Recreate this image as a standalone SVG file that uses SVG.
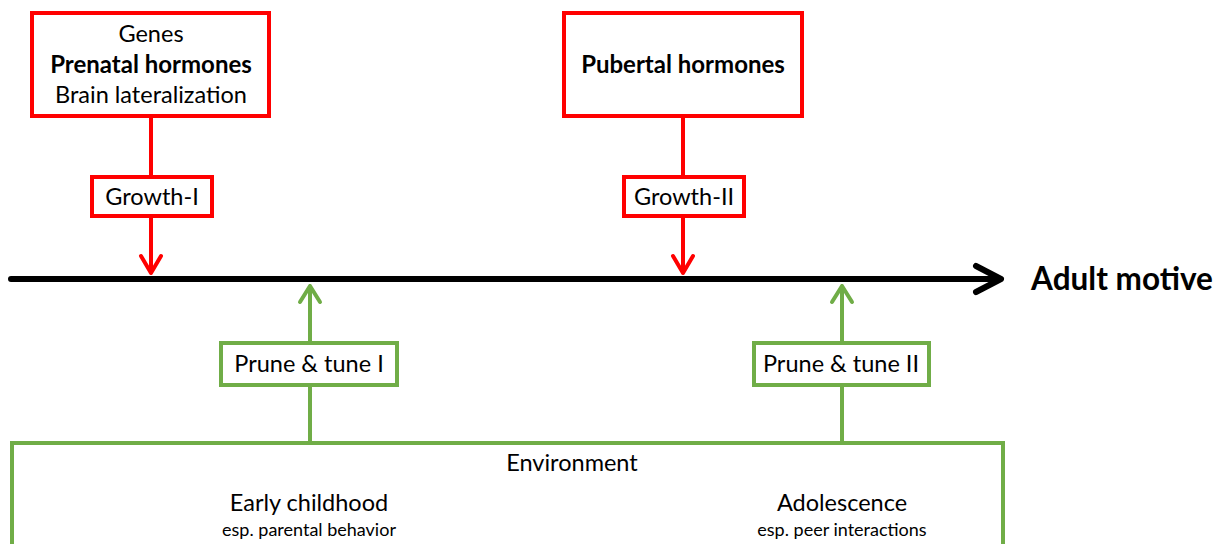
<svg xmlns="http://www.w3.org/2000/svg" width="1225" height="544" viewBox="0 0 1225 544">
<defs>
<style>
.r{fill:#fff;stroke:#FF0000;stroke-width:4}
.g{fill:#fff;stroke:#70AD47;stroke-width:4}
.rl{stroke:#FF0000;stroke-width:4;fill:none;stroke-linecap:round;stroke-linejoin:round}
.gl{stroke:#70AD47;stroke-width:4;fill:none;stroke-linecap:round;stroke-linejoin:round}
text{font-family:Lato,"Open Sans",sans-serif;fill:#000;text-anchor:middle}
.t{font-size:23.5px}
.b{font-size:24px;font-weight:bold}
.s{font-size:18px}
</style>
</defs>
<g id="connectors">
<path class="rl" d="M151,116 V176"/>
<path class="rl" d="M151,216 V273 M141,256 L151,273 L161,256"/>
<path class="rl" d="M683,116 V176"/>
<path class="rl" d="M683,216 V273 M673,256 L683,273 L693,256"/>
<path d="M11,279 H1000 M976,266 L1001,279 L976,292" fill="none" stroke="#000" stroke-width="6" stroke-linecap="round" stroke-linejoin="round"/>
<path class="gl" d="M310,342 V286 M300,302 L310,286 L320,302"/>
<path class="gl" d="M310,386 V443"/>
<path class="gl" d="M842,342 V286 M832,302 L842,286 L852,302"/>
<path class="gl" d="M842,386 V443"/>
</g>
<g id="node-prenatal">
<rect class="r" x="32" y="13" width="237" height="103"/>
<text class="t" x="151" y="42">Genes</text>
<text class="b" x="151" y="73">Prenatal hormones</text>
<text class="t" x="151" y="103">Brain lateralization</text>
</g>
<g id="node-growth1">
<rect class="r" x="92" y="177" width="120" height="39"/>
<text class="t" x="152" y="205">Growth-I</text>
</g>
<g id="node-pubertal">
<rect class="r" x="564" y="13" width="238" height="103"/>
<text class="b" x="683" y="73">Pubertal hormones</text>
</g>
<g id="node-growth2">
<rect class="r" x="624" y="177" width="120" height="39"/>
<text class="t" x="684" y="205">Growth-II</text>
</g>
<g id="node-adult">
<text x="1122" y="290" style="font-size:31.5px;font-weight:bold">Adult motive</text>
</g>
<g id="node-prune1">
<rect class="g" x="221" y="343" width="176" height="42"/>
<text class="t" x="309" y="372">Prune &amp; tune I</text>
</g>
<g id="node-prune2">
<rect class="g" x="754" y="343" width="175" height="42"/>
<text class="t" x="841" y="372">Prune &amp; tune II</text>
</g>
<g id="node-environment">
<rect class="g" x="12" y="443" width="991" height="120"/>
<text class="t" x="572" y="471">Environment</text>
<text class="t" x="309" y="511">Early childhood</text>
<text class="s" x="309" y="536">esp. parental behavior</text>
<text class="t" x="842" y="511">Adolescence</text>
<text class="s" x="842" y="536">esp. peer interactions</text>
</g>
</svg>
